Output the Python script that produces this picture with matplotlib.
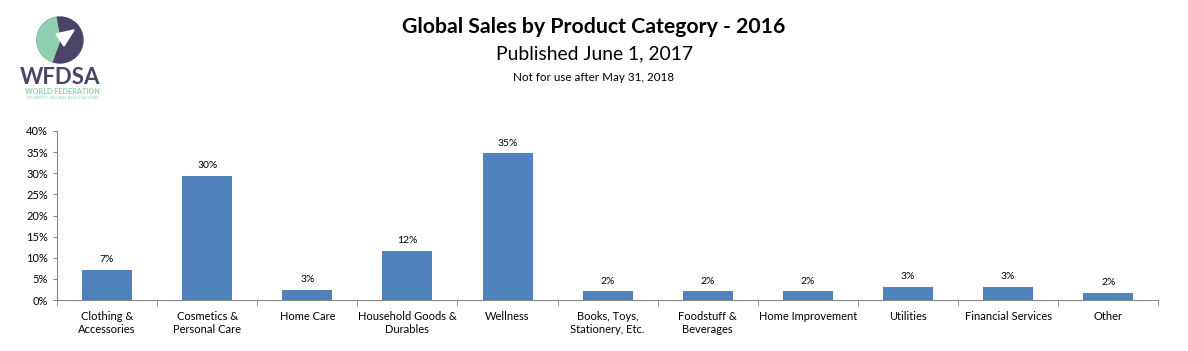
import matplotlib
matplotlib.use("Agg")
import matplotlib.pyplot as plt
from matplotlib.patches import Circle, Wedge, Polygon
from matplotlib.ticker import MultipleLocator, FuncFormatter

plt.rcParams["font.family"] = ["Lato", "DejaVu Sans"]

categories = ["Clothing &\nAccessories", "Cosmetics &\nPersonal Care", "Home Care",
              "Household Goods &\nDurables", "Wellness", "Books, Toys,\nStationery, Etc.",
              "Foodstuff &\nBeverages", "Home Improvement", "Utilities",
              "Financial Services", "Other"]
shares = [7.2, 29.4, 2.4, 11.7, 34.7, 2.1, 2.1, 2.1, 3.1, 3.1, 1.7]
labels = ["7%", "30%", "3%", "12%", "35%", "2%", "2%", "2%", "3%", "3%", "2%"]

BAR = "#4f81bd"
AXIS = "#868686"
PURPLE = "#4b4468"
GREEN = "#8fd0b0"

fig = plt.figure(figsize=(11.88, 3.51), dpi=100)
ax = fig.add_axes([0.048, 0.145, 0.927, 0.482])

x = range(len(categories))
ax.bar(x, shares, width=0.5, color=BAR)
for xi, v, t in zip(x, shares, labels):
    ax.text(xi, v + 1.3, t, ha="center", va="bottom", fontsize=7.5)

ax.set_xlim(-0.5, len(categories) - 0.5)
ax.set_ylim(0, 40)
ax.yaxis.set_major_locator(MultipleLocator(5))
ax.yaxis.set_major_formatter(FuncFormatter(lambda v, p: f"{v:.0f}%"))
ax.set_xticks(list(x))
ax.set_xticklabels(categories, fontsize=8, linespacing=1.25)
ax.set_xticks([i - 0.5 for i in range(len(categories) + 1)], minor=True)
ax.tick_params(axis="x", which="major", length=0, pad=8)
ax.tick_params(axis="x", which="minor", length=4, color=AXIS)
ax.tick_params(axis="y", labelsize=8, length=3, color=AXIS)
for s in ("top", "right"):
    ax.spines[s].set_visible(False)
for s in ("left", "bottom"):
    ax.spines[s].set_color(AXIS)

fig.text(0.5, 0.905, "Global Sales by Product Category - 2016", ha="center",
         fontsize=15.3, fontweight="bold")
fig.text(0.5, 0.83, "Published June 1, 2017", ha="center", fontsize=13.9)
fig.text(0.5, 0.77, "Not for use after May 31, 2018", ha="center", fontsize=8.4)

# WFDSA logo (approximation), pixel coordinates
lax = fig.add_axes([0.0, 1 - 110 / 351, 120 / 1188, 110 / 351])
lax.set_xlim(0, 120)
lax.set_ylim(110, 0)
lax.axis("off")
lax.add_patch(Circle((60, 40), 23, color=PURPLE))
lax.add_patch(Wedge((60, 40), 23, 110, 260, color=GREEN))
lax.add_patch(Polygon([[56, 34], [74, 30], [64, 46]], closed=True, color="white"))
lax.text(60, 77, "WFDSA", ha="center", va="center", fontsize=16, fontweight="bold", color=PURPLE)
lax.text(62, 91, "WORLD FEDERATION", ha="center", va="center", fontsize=5.2,
         fontweight="bold", color=GREEN)
lax.text(62, 98, "OF DIRECT SELLING ASSOCIATIONS", ha="center", va="center", fontsize=3.2,
         color=GREEN)

fig.savefig("out.png", dpi=100)
